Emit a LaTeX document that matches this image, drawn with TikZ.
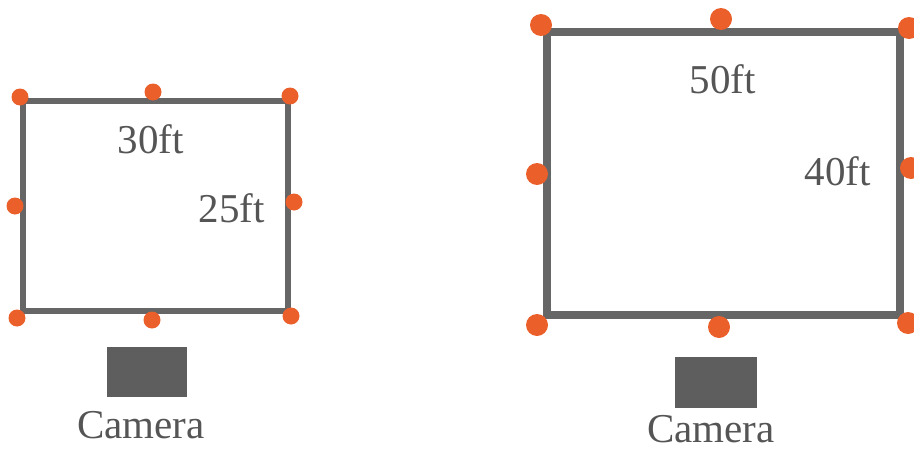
\documentclass[tikz,border=0pt]{standalone}
\usepackage{fontspec}
\setmainfont{Liberation Serif}
\definecolor{wallgray}{HTML}{666666}
\definecolor{camgray}{HTML}{5E5E5E}
\definecolor{txtgray}{HTML}{555555}
\definecolor{dotorange}{HTML}{EA5F2A}
\begin{document}
\begin{tikzpicture}[x=1pt,y=-1pt,
  wall/.style={draw=wallgray,line join=miter},
  dotS/.style={circle,fill=dotorange,inner sep=0pt,minimum size=17pt},
  dotL/.style={circle,fill=dotorange,inner sep=0pt,minimum size=22pt},
  lbl/.style={text=txtgray,inner sep=0pt,font=\fontsize{41}{48}\selectfont},
  cam/.style={fill=camgray,inner sep=0pt}]
\useasboundingbox (0,0) rectangle (914,450);
% left room
\draw[wall,line width=6pt] (23,101) rectangle (288,311);
\node[dotS] (s1) at (20,97) {};
\node[dotS] (s2) at (153,92) {};
\node[dotS] (s3) at (290,96) {};
\node[dotS] (s4) at (15,206) {};
\node[dotS] (s5) at (294,202) {};
\node[dotS] (s6) at (17,318) {};
\node[dotS] (s7) at (152,320) {};
\node[dotS] (s8) at (291,316) {};
\node[lbl] (w1) at (151,139) {30ft};
\node[lbl] (h1) at (232,208) {25ft};
\node[cam,minimum width=80pt,minimum height=50pt] (c1) at (147,372) {};
\node[lbl] (t1) at (141,425) {Camera};
% right room
\draw[wall,line width=7.5pt] (547,32) rectangle (900,315);
\node[dotL] (b1) at (541,25) {};
\node[dotL] (b2) at (721,19) {};
\node[dotL] (b3) at (909,28) {};
\node[dotL] (b4) at (537,174) {};
\node[dotL] (b5) at (911,168) {};
\node[dotL] (b6) at (537,325) {};
\node[dotL] (b7) at (719,327) {};
\node[dotL] (b8) at (908,323) {};
\node[lbl] (w2) at (723,79) {50ft};
\node[lbl] (h2) at (838,171) {40ft};
\node[cam,minimum width=82pt,minimum height=51pt] (c2) at (716,382) {};
\node[lbl] (t2) at (711,429) {Camera};
\end{tikzpicture}
\end{document}
